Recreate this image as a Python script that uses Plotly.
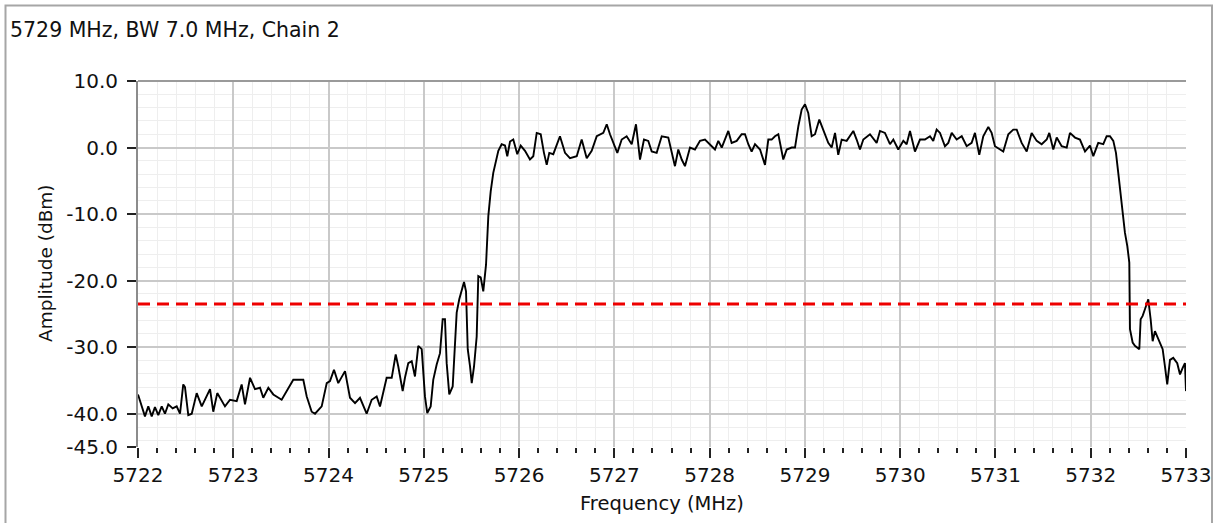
import plotly.graph_objects as go

# Spectrum sweep, chain 2 (frequency in MHz, amplitude in dBm)
freq_mhz = [
    5722.000, 5722.073, 5722.108, 5722.144, 5722.178, 5722.213, 5722.249, 5722.283, 5722.318, 5722.364,
    5722.406, 5722.441, 5722.475, 5722.493, 5722.528, 5722.564, 5722.616, 5722.669, 5722.756, 5722.790,
    5722.832, 5722.913, 5722.966, 5723.036, 5723.088, 5723.123, 5723.176, 5723.228, 5723.281, 5723.315,
    5723.368, 5723.420, 5723.508, 5723.561, 5723.630, 5723.735, 5723.771, 5723.823, 5723.858, 5723.928,
    5723.981, 5724.015, 5724.057, 5724.102, 5724.138, 5724.173, 5724.225, 5724.278, 5724.330, 5724.400,
    5724.453, 5724.505, 5724.540, 5724.610, 5724.663, 5724.705, 5724.732, 5724.778, 5724.802, 5724.837,
    5724.873, 5724.907, 5724.942, 5724.978, 5725.012, 5725.036, 5725.072, 5725.099, 5725.135, 5725.170,
    5725.198, 5725.222, 5725.240, 5725.267, 5725.303, 5725.327, 5725.345, 5725.372, 5725.398, 5725.422,
    5725.443, 5725.461, 5725.485, 5725.503, 5725.527, 5725.555, 5725.572, 5725.597, 5725.624, 5725.653,
    5725.677, 5725.702, 5725.729, 5725.758, 5725.782, 5725.817, 5725.852, 5725.876, 5725.905, 5725.939,
    5725.981, 5726.017, 5726.062, 5726.114, 5726.149, 5726.185, 5726.227, 5726.261, 5726.290, 5726.317,
    5726.359, 5726.429, 5726.482, 5726.534, 5726.605, 5726.657, 5726.710, 5726.762, 5726.815, 5726.884,
    5726.920, 5726.954, 5727.007, 5727.031, 5727.077, 5727.129, 5727.182, 5727.227, 5727.269, 5727.311,
    5727.356, 5727.392, 5727.444, 5727.497, 5727.566, 5727.602, 5727.636, 5727.671, 5727.707, 5727.741,
    5727.794, 5727.846, 5727.899, 5727.951, 5728.004, 5728.056, 5728.091, 5728.127, 5728.196, 5728.231,
    5728.284, 5728.336, 5728.371, 5728.406, 5728.441, 5728.476, 5728.529, 5728.581, 5728.616, 5728.651,
    5728.686, 5728.721, 5728.773, 5728.809, 5728.861, 5728.896, 5728.931, 5728.966, 5729.001, 5729.035,
    5729.071, 5729.106, 5729.151, 5729.193, 5729.245, 5729.281, 5729.316, 5729.350, 5729.386, 5729.438,
    5729.508, 5729.543, 5729.578, 5729.613, 5729.683, 5729.753, 5729.788, 5729.840, 5729.893, 5729.928,
    5729.980, 5730.033, 5730.068, 5730.103, 5730.155, 5730.208, 5730.260, 5730.313, 5730.347, 5730.383,
    5730.418, 5730.470, 5730.505, 5730.541, 5730.593, 5730.646, 5730.698, 5730.750, 5730.785, 5730.830,
    5730.872, 5730.925, 5730.960, 5730.995, 5731.048, 5731.082, 5731.135, 5731.187, 5731.223, 5731.275,
    5731.328, 5731.380, 5731.433, 5731.485, 5731.538, 5731.565, 5731.607, 5731.643, 5731.695, 5731.748,
    5731.782, 5731.835, 5731.887, 5731.940, 5731.992, 5732.027, 5732.079, 5732.132, 5732.167, 5732.202,
    5732.237, 5732.265, 5732.289, 5732.314, 5732.335, 5732.359, 5732.384, 5732.405, 5732.412, 5732.440,
    5732.464, 5732.510, 5732.524, 5732.545, 5732.569, 5732.604, 5732.629, 5732.650, 5732.674, 5732.698,
    5732.727, 5732.755, 5732.779, 5732.803, 5732.832, 5732.866, 5732.908, 5732.937, 5732.965, 5732.989,
    5733.000,
]
amplitude_dbm = [
    -37.1, -40.4, -38.9, -40.4, -39.0, -40.2, -38.9, -40.0, -38.6, -39.2,
    -38.9, -40.0, -35.6, -36.0, -40.2, -40.0, -36.9, -38.9, -36.3, -39.7,
    -36.9, -38.9, -37.9, -38.1, -35.6, -38.6, -34.6, -36.3, -36.1, -37.6,
    -36.1, -37.1, -37.9, -36.6, -34.9, -34.9, -37.4, -39.7, -40.0, -38.9,
    -35.4, -35.1, -33.4, -35.4, -34.4, -33.6, -37.6, -38.4, -37.6, -40.0,
    -37.9, -37.4, -38.9, -34.6, -34.6, -31.1, -32.9, -36.6, -34.6, -32.4,
    -32.1, -34.4, -29.8, -30.3, -37.4, -39.9, -38.9, -34.9, -32.6, -30.9,
    -25.8, -25.8, -32.4, -37.1, -35.9, -29.3, -24.8, -22.8, -21.3, -20.2,
    -21.6, -30.3, -32.9, -35.4, -32.9, -28.4, -19.3, -19.5, -21.6, -17.6,
    -10.3, -6.6, -3.8, -1.8, -0.5, 0.5, 0.3, -1.3, 0.9, 1.2,
    -1.0, 0.3, -0.5, -1.8, -1.3, 2.2, 2.0, -0.8, -2.6, -0.8,
    -1.0, 1.7, -0.8, -1.6, -1.3, 1.2, -1.6, -0.5, 1.7, 2.2,
    3.5, 2.0, 0.0, -0.8, 1.2, 1.7, 0.5, 3.5, -1.8, 1.2,
    1.0, -0.6, -0.8, 1.7, 1.5, -0.6, -2.8, -0.3, -1.8, -2.8,
    0.0, -0.3, 1.0, 1.2, 0.5, -0.3, 1.0, 0.0, 2.5, 0.7,
    1.0, 2.0, 2.0, 0.5, -0.6, 0.5, -0.3, -2.6, 1.2, 1.2,
    1.7, 2.0, -1.8, -0.3, 0.0, 0.0, 3.2, 5.7, 6.5, 5.2,
    1.7, 2.0, 4.2, 2.5, 0.7, 0.0, 2.2, -1.1, 1.2, 1.0,
    2.5, 1.2, -0.3, 1.2, 2.0, 0.7, 2.5, 2.2, 0.5, 1.2,
    -0.3, 1.0, 0.5, 2.5, -0.6, 1.2, 1.2, 1.7, 1.0, 2.7,
    2.2, 0.2, 0.7, 2.2, 1.2, 1.7, 0.2, 0.7, 2.2, -1.1,
    1.7, 3.1, 2.2, 0.2, -0.3, -0.6, 2.0, 2.7, 2.7, 0.7,
    -0.6, 2.2, 1.0, 0.5, 1.2, 2.2, -0.3, 1.5, 0.2, 0.0,
    2.2, 1.5, 1.2, -0.6, 0.3, -1.3, 0.7, 0.5, 1.7, 1.7,
    1.0, -0.8, -3.8, -6.8, -9.8, -12.8, -14.8, -17.3, -27.3, -29.3,
    -29.8, -30.3, -25.8, -25.3, -24.3, -22.8, -25.8, -29.1, -27.6, -28.4,
    -29.3, -30.3, -32.9, -35.6, -31.9, -31.6, -32.4, -34.1, -33.1, -32.4,
    -36.6,
]

# Limit line
limit_span_mhz = [5722, 5733]
limit_dbm = [-23.5, -23.5]

y_tick_vals = [10, 0, -10, -20, -30, -40, -45]
y_tick_text = ["10.0", "0.0", "-10.0", "-20.0", "-30.0", "-40.0", "-45.0"]
y_grid_vals = [0, -10, -20, -30, -40]

FONT = "DejaVu Sans"
TEXT = "#111111"
TICK_SIZE = 20

fig = go.Figure()

fig.add_trace(go.Scatter(
    x=freq_mhz, y=amplitude_dbm, mode="lines",
    line=dict(color="#000000", width=1.9),
    showlegend=False, hoverinfo="skip",
))
fig.add_trace(go.Scatter(
    x=limit_span_mhz, y=limit_dbm, mode="lines",
    line=dict(color="#ee0000", width=3, dash="12px,7px"),
    showlegend=False, hoverinfo="skip",
))
# invisible helper trace on the overlay axis carrying the major y gridlines
fig.add_trace(go.Scatter(
    x=limit_span_mhz, y=limit_dbm, mode="lines", yaxis="y2",
    line=dict(color="rgba(0,0,0,0)", width=0),
    showlegend=False, hoverinfo="skip",
))

fig.update_layout(
    width=1214, height=523,
    margin=dict(l=138, r=28, t=81, b=76, autoexpand=False),
    paper_bgcolor="white", plot_bgcolor="white",
    font=dict(family=FONT, size=TICK_SIZE, color=TEXT),
    title=dict(
        text="5729 MHz, BW 7.0 MHz, Chain 2",
        xref="container", yref="container",
        x=10 / 1214, y=1 - 30 / 523, xanchor="left", yanchor="middle",
        font=dict(family=FONT, size=20.5, color=TEXT),
    ),
    xaxis=dict(
        range=[5722, 5733], tick0=5722, dtick=1, automargin=False,
        showgrid=True, gridcolor="#c9c9c9", gridwidth=1.6,
        zeroline=False, showline=False,
        ticks="outside", ticklen=10, tickwidth=2, tickcolor="#222222",
        tickfont=dict(family=FONT, size=TICK_SIZE, color=TEXT),
        minor=dict(dtick=0.2, tick0=5722, showgrid=True, gridcolor="#eeeeee", gridwidth=1,
                   ticks="outside", ticklen=5, tickwidth=2, tickcolor="#222222"),
    ),
    yaxis=dict(
        range=[-45, 10], tickmode="array", tickvals=y_tick_vals, ticktext=y_tick_text,
        automargin=False, showgrid=False, zeroline=False,
        showline=True, linecolor="#8c8c8c", linewidth=2,
        ticks="outside", ticklen=9, tickwidth=2, tickcolor="#222222",
        ticklabelstandoff=5,
        tickfont=dict(family=FONT, size=TICK_SIZE, color=TEXT),
        minor=dict(dtick=2, tick0=0, showgrid=True, gridcolor="#eeeeee", gridwidth=1, ticks=""),
    ),
    yaxis2=dict(
        overlaying="y", matches="y", range=[-45, 10], automargin=False,
        tickmode="array", tickvals=y_grid_vals, showticklabels=False, ticks="",
        showgrid=True, gridcolor="#c9c9c9", gridwidth=1.6, zeroline=False, showline=False,
    ),
    shapes=[
        # top edge of the plotting area
        dict(type="line", xref="paper", yref="paper", x0=0, x1=1, y0=1, y1=1,
             line=dict(color="#9a9a9a", width=2)),
        # outer panel frame
        dict(type="rect", xref="paper", yref="paper",
             x0=(5.5 - 138) / 1048, x1=(1212 - 138) / 1048,
             y0=(447 - 540) / 366, y1=(447 - 5.5) / 366,
             line=dict(color="#a6a6a6", width=2), fillcolor="rgba(0,0,0,0)", layer="above"),
    ],
    annotations=[
        dict(text="Frequency (MHz)", xref="paper", yref="paper", x=0.5, y=(447 - 503) / 366,
             xanchor="center", yanchor="middle", showarrow=False,
             font=dict(family=FONT, size=19.5, color=TEXT)),
        dict(text="Amplitude (dBm)", xref="paper", yref="paper", x=(45 - 138) / 1048,
             y=(447 - 263) / 366, xanchor="center", yanchor="middle", textangle=-90,
             showarrow=False, font=dict(family=FONT, size=18.5, color=TEXT)),
    ],
)

fig.write_html("out.html")
